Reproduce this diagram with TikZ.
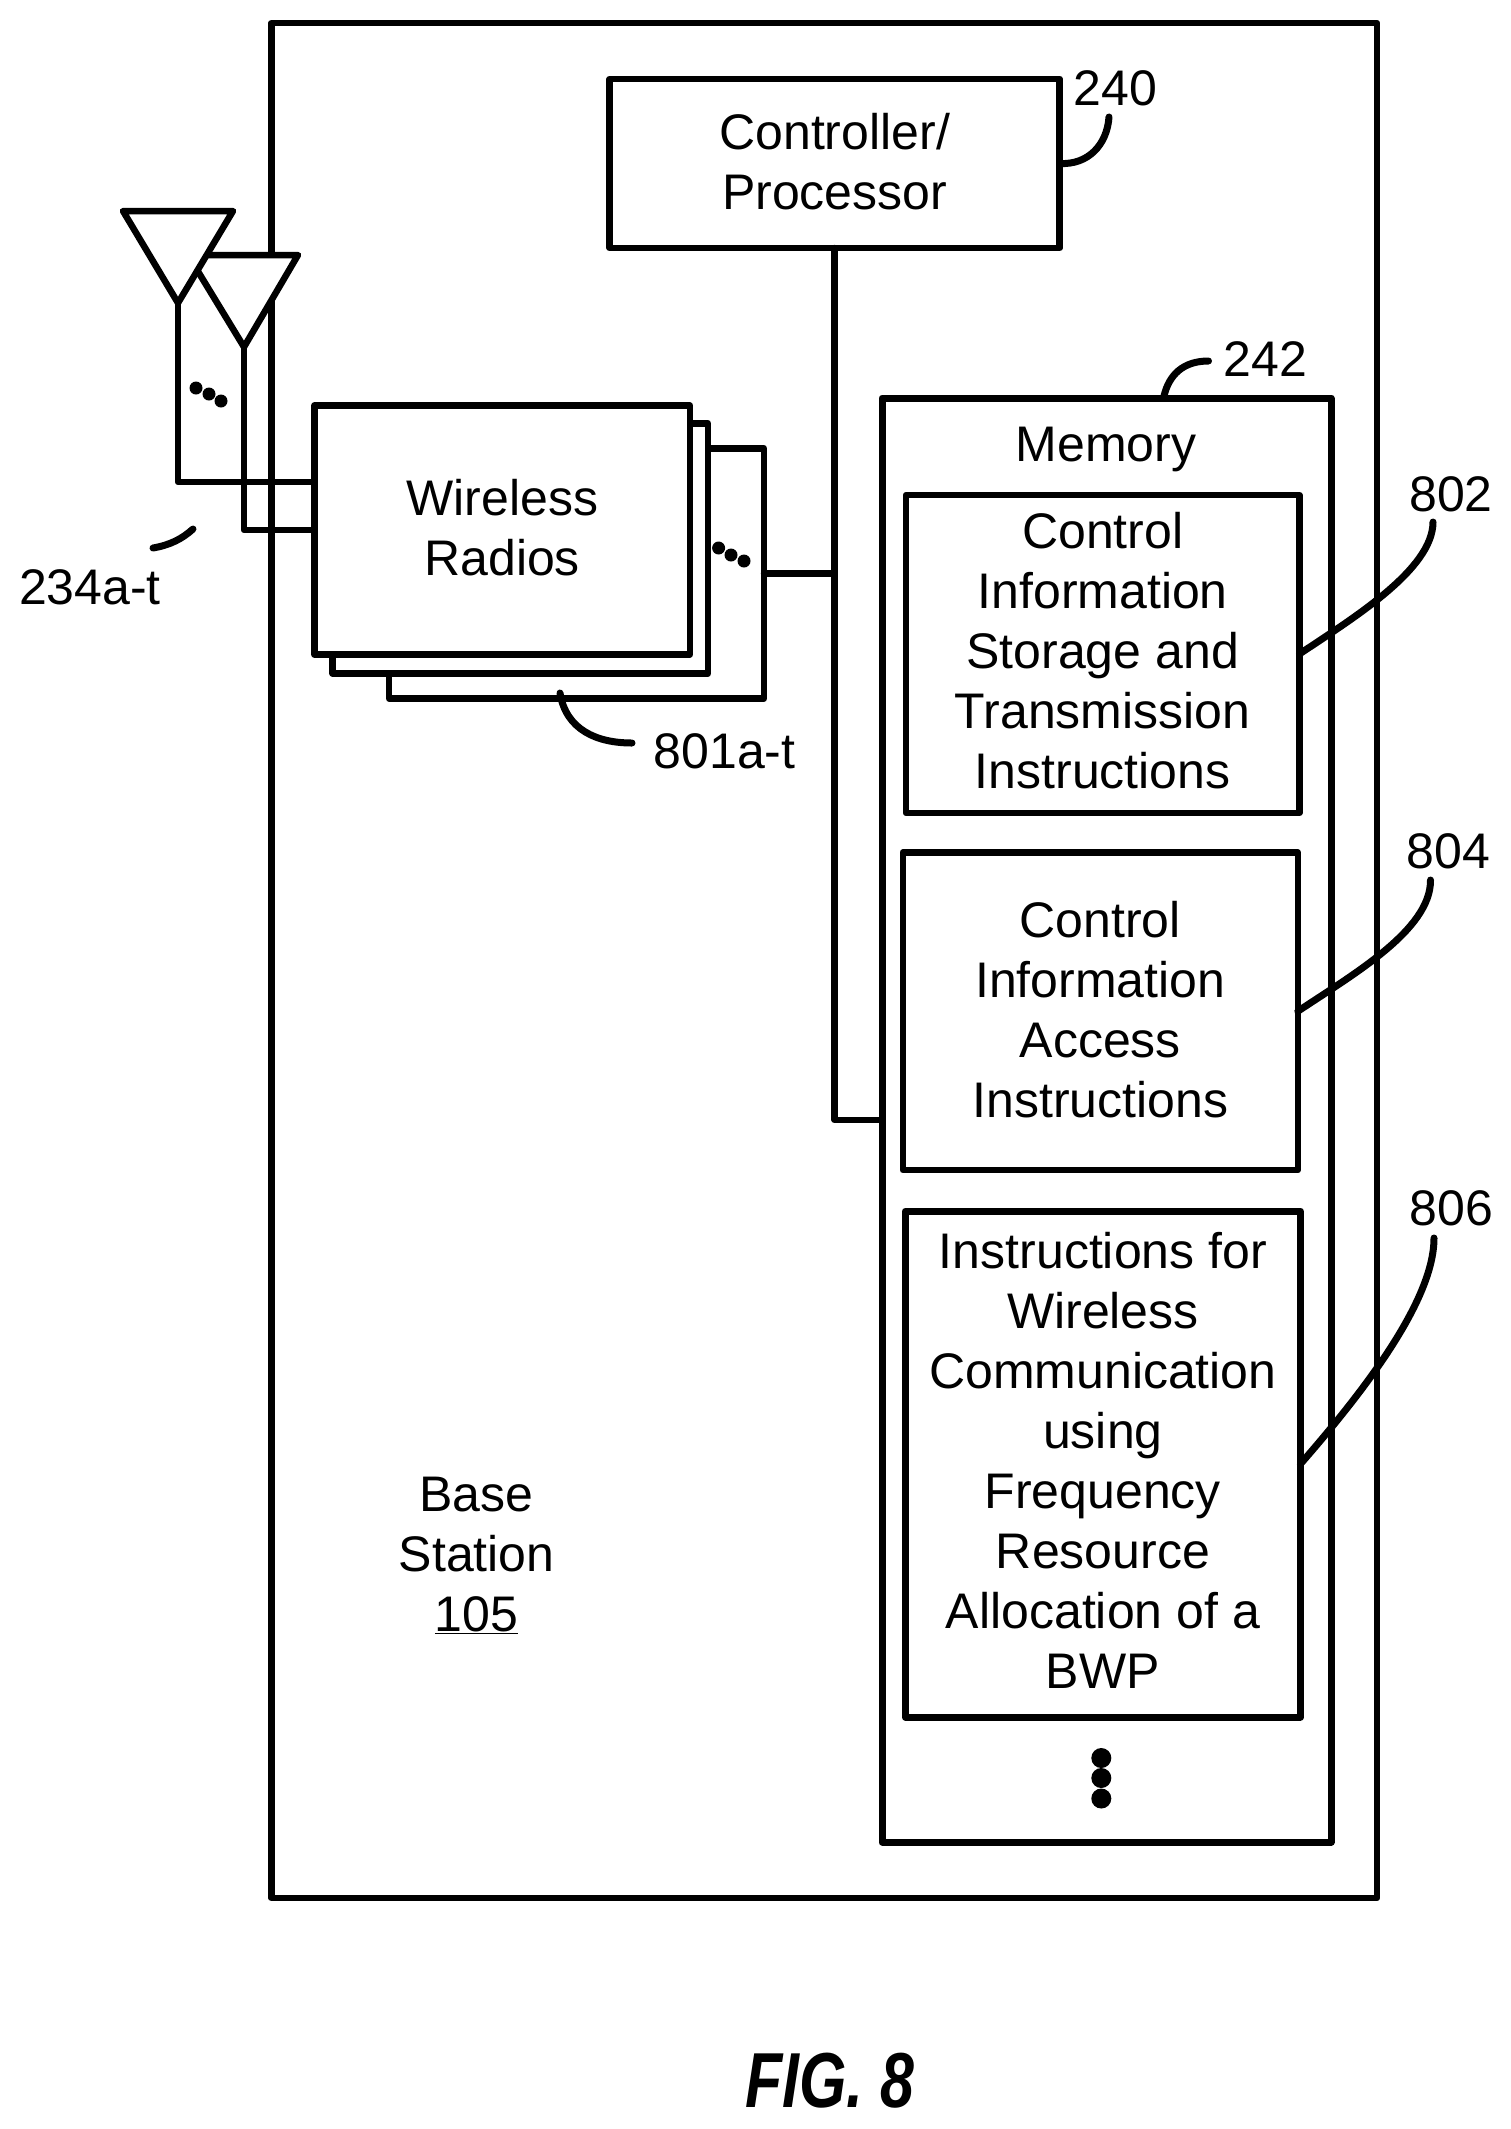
\documentclass[tikz,border=0pt]{standalone}
\usepackage{fontspec}
\setmainfont{Liberation Sans}
\newcommand{\lastl}[1]{\rule[-#1pt]{0pt}{1pt}}
\begin{document}
\begin{tikzpicture}[x=1pt,y=-1pt,
  ln/.style={line width=6.5pt,line join=round,line cap=round},
  bx/.style={draw,ln,fill=white,rectangle,inner sep=0pt,outer sep=0pt,align=center,font=\fontsize{50}{60}\selectfont,text=black},
  lbl/.style={inner sep=0pt,outer sep=0pt,align=center,font=\fontsize{50}{60}\selectfont},
  lead/.style={line width=7pt,line cap=round},
  dot/.style={circle,fill=black,inner sep=0pt,minimum size=13pt}]
\useasboundingbox (0,0) rectangle (1511,2129);
% base station
\node[bx,fill=none,minimum width=1105.5pt,minimum height=1875pt] (bs) at (824.25,960.5) {};
\node[lbl] (bstext) at (476.6,1555.6) {Base\\Station\\\underline{105}};
% antennas
\coordinate (a2tl) at (188,255); \coordinate (a2tr) at (298,255); \coordinate (a2ap) at (244,347);
\coordinate (a1tl) at (123,211); \coordinate (a1tr) at (233,211); \coordinate (a1ap) at (178,303);
\draw[ln,fill=white] (a2tl) -- (a2tr) -- (a2ap) -- cycle;
\draw[ln,fill=white] (a1tl) -- (a1tr) -- (a1ap) -- cycle;
% radios
\node[bx,minimum width=375pt,minimum height=250pt] (r3) at (576.5,573.5) {};
\node[bx,minimum width=375.5pt,minimum height=250pt] (r2) at (520.25,548.5) {};
\node[bx,minimum width=375.5pt,minimum height=249pt] (r1) at (502.2,530) {Wireless\\Radios\lastl{4.4}};
\coordinate (s1) at (178,482); \coordinate (s2) at (244,530);
\draw[ln] (a1ap) -- (s1) -- (s1 -| r1.west);
\draw[ln] (a2ap) -- (s2) -- (s2 -| r1.west);
\node[dot] (d1) at (196,388) {}; \node[dot] (d2) at (209,394) {}; \node[dot] (d3) at (221,401) {};
\node[dot] (d4) at (718.6,548) {}; \node[dot] (d5) at (731,555) {}; \node[dot] (d6) at (744,561) {};
% controller
\node[bx,minimum width=450pt,minimum height=169pt] (ctrl) at (834.7,163.5) {Controller/\\Processor\lastl{3.4}};
% memory
\node[bx,line width=7pt,minimum width=449pt,minimum height=1444pt] (mem) at (1106.5,1120) {};
\node[lbl] (memtext) at (1106,449) {Memory};
\node[bx,minimum width=393.4pt,minimum height=318pt] (b802) at (1102.7,654) {Control\\Information\\Storage and\\Transmission\\Instructions\lastl{6.6}};
\node[bx,minimum width=395pt,minimum height=317.5pt] (b804) at (1100.3,1011.3) {Control\\Information\\Access\\Instructions\lastl{3}};
\node[bx,line width=7pt,minimum width=395pt,minimum height=506pt] (b806) at (1102.9,1464) {Instructions for\\Wireless\\Communication\\using\\Frequency\\Resource\\Allocation of a\\BWP\lastl{6.6}};
\node[dot,minimum size=20pt] (d7) at (1101.3,1758) {}; \node[dot,minimum size=20pt] (d8) at (1101.3,1778) {}; \node[dot,minimum size=20pt] (d9) at (1101.3,1798.5) {};
% bus
\coordinate (busb) at (ctrl.south |- mem.west);
\coordinate (bust) at (ctrl.south |- r3.east);
\draw[ln] (ctrl.south) -- (busb) -- (mem.west);
\draw[ln] (r3.east) -- (bust);
% labels
\node[lbl] (l240) at (1115.5,88.5) {240};
\node[lbl] (l242) at (1265.3,359) {242};
\node[lbl] (l802) at (1451,494) {802};
\node[lbl] (l804) at (1448.3,851.6) {804};
\node[lbl] (l806) at (1451.3,1208.3) {806};
\node[lbl] (l801) at (724.6,750.8) {801a-t};
\node[lbl] (l234) at (90,587) {234a-t};
% leaders
\coordinate (e240) at (1109,117);
\coordinate (s242) at (1164,396); \coordinate (e242) at (1208.5,361);
\coordinate (e802) at (1433,522);
\coordinate (e804) at (1430.5,880);
\coordinate (e806) at (1434,1238);
\coordinate (s801) at (560,693); \coordinate (e801) at (632,743);
\coordinate (s234) at (153,548); \coordinate (e234) at (193,529);
\draw[lead] (ctrl.east) .. controls (1088,165) and (1107,145) .. (e240);
\draw[lead] (s242) .. controls (1169,375) and (1183,361) .. (e242);
\draw[lead] (b802.east) .. controls (1350,620) and (1433,570) .. (e802);
\draw[lead] (b804.east) .. controls (1352,975) and (1431,930) .. (e804);
\draw[lead] (b806.east) .. controls (1365,1390) and (1434,1300) .. (e806);
\draw[lead] (s801) .. controls (566,730) and (597,743) .. (e801);
\draw[lead] (s234) .. controls (170,545) and (182,539) .. (e234);
\node[inner sep=0pt,outer sep=0pt,xscale=.78,font=\fontsize{78}{90}\selectfont\bfseries\itshape] (fig) at (830,2081) {FIG. 8};
\end{tikzpicture}
\end{document}
